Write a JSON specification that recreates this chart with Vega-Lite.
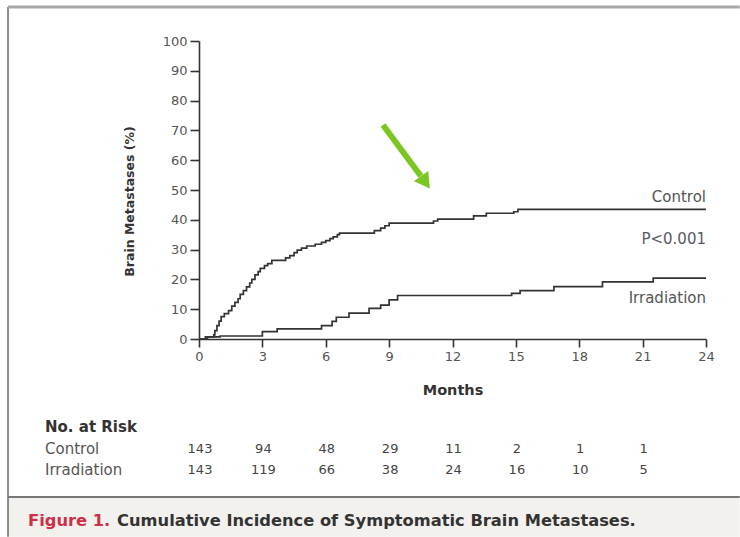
{
  "$schema": "https://vega.github.io/schema/vega-lite/v6.json",
  "width": 507,
  "height": 298,
  "autosize": {"type": "none"},
  "padding": {"left": 199, "top": 41, "right": 34, "bottom": 198},
  "background": "white",
  "config": {
    "view": {"stroke": null},
    "font": "DejaVu Sans",
    "axis": {
      "grid": false,
      "domainColor": "#333333",
      "domainWidth": 1.6,
      "tickColor": "#333333",
      "tickWidth": 1.6,
      "tickSize": 8,
      "labelColor": "#555555",
      "labelFont": "DejaVu Sans",
      "labelFontSize": 13,
      "labelFlush": false,
      "labelOverlap": false,
      "titleFont": "DejaVu Sans",
      "titleFontWeight": "bold",
      "titleColor": "#333333"
    },
    "axisY": {"tickCount": 11, "tickSize": 9, "labelPadding": 3},
    "axisX": {"tickCount": 9, "labelPadding": 3}
  },
  "data": {"values": [{}]},
  "datasets": {
    "curves": [
      {"group": "Control", "month": 0, "pct": 0},
      {"group": "Control", "month": 0.4, "pct": 0.7},
      {"group": "Control", "month": 0.7, "pct": 1.4},
      {"group": "Control", "month": 0.75, "pct": 2.8},
      {"group": "Control", "month": 0.85, "pct": 4.5},
      {"group": "Control", "month": 0.95, "pct": 6.0},
      {"group": "Control", "month": 1.05, "pct": 7.5},
      {"group": "Control", "month": 1.2, "pct": 8.5},
      {"group": "Control", "month": 1.4, "pct": 9.5},
      {"group": "Control", "month": 1.55, "pct": 11.0},
      {"group": "Control", "month": 1.7, "pct": 12.3},
      {"group": "Control", "month": 1.85, "pct": 13.5},
      {"group": "Control", "month": 1.95, "pct": 15.0},
      {"group": "Control", "month": 2.1, "pct": 16.2},
      {"group": "Control", "month": 2.25, "pct": 17.5},
      {"group": "Control", "month": 2.4, "pct": 18.8},
      {"group": "Control", "month": 2.5, "pct": 20.0},
      {"group": "Control", "month": 2.65, "pct": 21.5},
      {"group": "Control", "month": 2.8, "pct": 22.6},
      {"group": "Control", "month": 2.9, "pct": 23.7},
      {"group": "Control", "month": 3.1, "pct": 24.6},
      {"group": "Control", "month": 3.25, "pct": 25.3},
      {"group": "Control", "month": 3.45, "pct": 26.4},
      {"group": "Control", "month": 4.1, "pct": 27.2},
      {"group": "Control", "month": 4.3, "pct": 28.0},
      {"group": "Control", "month": 4.5, "pct": 29.0},
      {"group": "Control", "month": 4.65, "pct": 29.8},
      {"group": "Control", "month": 4.85, "pct": 30.5},
      {"group": "Control", "month": 5.1, "pct": 31.2},
      {"group": "Control", "month": 5.5, "pct": 31.8},
      {"group": "Control", "month": 5.8, "pct": 32.4},
      {"group": "Control", "month": 6.0, "pct": 33.0},
      {"group": "Control", "month": 6.2, "pct": 33.7},
      {"group": "Control", "month": 6.35, "pct": 34.3},
      {"group": "Control", "month": 6.55, "pct": 35.0},
      {"group": "Control", "month": 6.65, "pct": 35.5},
      {"group": "Control", "month": 8.3, "pct": 36.4},
      {"group": "Control", "month": 8.6, "pct": 37.2},
      {"group": "Control", "month": 8.8, "pct": 38.0},
      {"group": "Control", "month": 9.0, "pct": 38.9},
      {"group": "Control", "month": 11.1, "pct": 39.6},
      {"group": "Control", "month": 11.3, "pct": 40.2},
      {"group": "Control", "month": 13.0, "pct": 41.3},
      {"group": "Control", "month": 13.6, "pct": 42.2},
      {"group": "Control", "month": 14.9, "pct": 42.7},
      {"group": "Control", "month": 15.1, "pct": 43.5},
      {"group": "Control", "month": 24.0, "pct": 43.5},
      {"group": "Irradiation", "month": 0, "pct": 0},
      {"group": "Irradiation", "month": 0.3, "pct": 0.7},
      {"group": "Irradiation", "month": 1.0, "pct": 1.0},
      {"group": "Irradiation", "month": 3.0, "pct": 2.5},
      {"group": "Irradiation", "month": 3.7, "pct": 3.4},
      {"group": "Irradiation", "month": 5.8, "pct": 4.5},
      {"group": "Irradiation", "month": 6.3, "pct": 5.9},
      {"group": "Irradiation", "month": 6.5, "pct": 7.3},
      {"group": "Irradiation", "month": 7.1, "pct": 8.7},
      {"group": "Irradiation", "month": 8.05, "pct": 10.3},
      {"group": "Irradiation", "month": 8.6, "pct": 11.4},
      {"group": "Irradiation", "month": 9.0, "pct": 13.1},
      {"group": "Irradiation", "month": 9.4, "pct": 14.6},
      {"group": "Irradiation", "month": 14.8, "pct": 15.3},
      {"group": "Irradiation", "month": 15.2, "pct": 16.2},
      {"group": "Irradiation", "month": 16.8, "pct": 17.6},
      {"group": "Irradiation", "month": 19.1, "pct": 19.2},
      {"group": "Irradiation", "month": 21.5, "pct": 20.4},
      {"group": "Irradiation", "month": 24.0, "pct": 20.4}
    ],
    "risk": [
      {"group": "Control", "month": 0, "n": 143},
      {"group": "Control", "month": 3, "n": 94},
      {"group": "Control", "month": 6, "n": 48},
      {"group": "Control", "month": 9, "n": 29},
      {"group": "Control", "month": 12, "n": 11},
      {"group": "Control", "month": 15, "n": 2},
      {"group": "Control", "month": 18, "n": 1},
      {"group": "Control", "month": 21, "n": 1},
      {"group": "Irradiation", "month": 0, "n": 143},
      {"group": "Irradiation", "month": 3, "n": 119},
      {"group": "Irradiation", "month": 6, "n": 66},
      {"group": "Irradiation", "month": 9, "n": 38},
      {"group": "Irradiation", "month": 12, "n": 24},
      {"group": "Irradiation", "month": 15, "n": 16},
      {"group": "Irradiation", "month": 18, "n": 10},
      {"group": "Irradiation", "month": 21, "n": 5}
    ]
  },
  "layer": [
    {
      "description": "caption band",
      "mark": {"type": "rect", "fill": "#f3f1ed"},
      "encoding": {
        "x": {"datum": -9.04, "type": "quantitative"},
        "x2": {"datum": 25.6},
        "y": {"datum": -53.3, "type": "quantitative"},
        "y2": {"datum": -66.4}
      }
    },
    {
      "description": "figure frame: left edge",
      "mark": {"type": "rule", "color": "#8c8c8c", "strokeWidth": 2},
      "encoding": {
        "x": {"datum": -9.04, "type": "quantitative"},
        "y": {"datum": 111.4, "type": "quantitative"},
        "y2": {"datum": -66.4}
      }
    },
    {
      "description": "figure frame: top edge",
      "mark": {"type": "rule", "color": "#a8a8a8", "strokeWidth": 3},
      "encoding": {
        "x": {"datum": -9.04, "type": "quantitative"},
        "x2": {"datum": 25.6},
        "y": {"datum": 111.4, "type": "quantitative"}
      }
    },
    {
      "description": "divider above the caption",
      "mark": {"type": "rule", "color": "#777777", "strokeWidth": 2},
      "encoding": {
        "x": {"datum": -9.04, "type": "quantitative"},
        "x2": {"datum": 25.6},
        "y": {"datum": -53.0, "type": "quantitative"}
      }
    },
    {
      "data": {"name": "curves"},
      "mark": {"type": "line", "interpolate": "step-after", "color": "#333333", "strokeWidth": 1.7},
      "encoding": {
        "x": {
          "field": "month",
          "type": "quantitative",
          "scale": {"domain": [0, 24], "nice": false, "zero": false},
          "axis": {
            "title": "Months",
            "values": [0, 3, 6, 9, 12, 15, 18, 21, 24],
            "titleFontSize": 14.5,
            "titlePadding": 20
          }
        },
        "y": {
          "field": "pct",
          "type": "quantitative",
          "scale": {"domain": [0, 100], "nice": false, "zero": false},
          "axis": {
            "title": "Brain Metastases (%)",
            "values": [0, 10, 20, 30, 40, 50, 60, 70, 80, 90, 100],
            "titleFontSize": 12.5,
            "titleX": -63,
            "titleY": 160
          }
        },
        "detail": {"field": "group"}
      }
    },
    {
      "mark": {"type": "text", "text": "Control", "align": "right", "baseline": "middle", "fontSize": 15, "color": "#555555"},
      "encoding": {
        "x": {"datum": 24, "type": "quantitative"},
        "y": {"datum": 47.7, "type": "quantitative"}
      }
    },
    {
      "mark": {"type": "text", "text": "P<0.001", "align": "right", "baseline": "middle", "fontSize": 15, "color": "#5a5a66"},
      "encoding": {
        "x": {"datum": 24, "type": "quantitative"},
        "y": {"datum": 33.7, "type": "quantitative"}
      }
    },
    {
      "mark": {"type": "text", "text": "Irradiation", "align": "right", "baseline": "middle", "fontSize": 15, "color": "#555555"},
      "encoding": {
        "x": {"datum": 24, "type": "quantitative"},
        "y": {"datum": 13.8, "type": "quantitative"}
      }
    },
    {
      "description": "green pointer arrow: shaft",
      "mark": {"type": "rule", "color": "#7cc623", "strokeWidth": 6},
      "encoding": {
        "x": {"datum": 8.71, "type": "quantitative"},
        "y": {"datum": 71.8, "type": "quantitative"},
        "x2": {"datum": 10.5},
        "y2": {"datum": 54.7}
      }
    },
    {
      "description": "green pointer arrow: head",
      "mark": {"type": "point", "shape": "triangle-up", "filled": true, "opacity": 1, "color": "#7cc623", "size": 310, "angle": 144.5},
      "encoding": {
        "x": {"datum": 10.72, "type": "quantitative"},
        "y": {"datum": 52.6, "type": "quantitative"}
      }
    },
    {
      "mark": {"type": "text", "text": "No. at Risk", "align": "left", "baseline": "middle", "fontSize": 15, "fontWeight": "bold", "color": "#333333"},
      "encoding": {
        "x": {"datum": -7.29, "type": "quantitative"},
        "y": {"datum": -29.4, "type": "quantitative"}
      }
    },
    {
      "mark": {"type": "text", "text": "Control", "align": "left", "baseline": "middle", "fontSize": 15, "color": "#555555"},
      "encoding": {
        "x": {"datum": -7.29, "type": "quantitative"},
        "y": {"datum": -36.9, "type": "quantitative"}
      }
    },
    {
      "mark": {"type": "text", "text": "Irradiation", "align": "left", "baseline": "middle", "fontSize": 15, "color": "#555555"},
      "encoding": {
        "x": {"datum": -7.29, "type": "quantitative"},
        "y": {"datum": -44.0, "type": "quantitative"}
      }
    },
    {
      "data": {"name": "risk"},
      "transform": [{"filter": "datum.group === 'Control'"}],
      "mark": {"type": "text", "align": "center", "baseline": "middle", "fontSize": 13, "color": "#444444", "dx": 1},
      "encoding": {
        "x": {"field": "month", "type": "quantitative"},
        "y": {"datum": -36.9, "type": "quantitative"},
        "text": {"field": "n", "type": "quantitative"}
      }
    },
    {
      "data": {"name": "risk"},
      "transform": [{"filter": "datum.group === 'Irradiation'"}],
      "mark": {"type": "text", "align": "center", "baseline": "middle", "fontSize": 13, "color": "#444444", "dx": 1},
      "encoding": {
        "x": {"field": "month", "type": "quantitative"},
        "y": {"datum": -44.0, "type": "quantitative"},
        "text": {"field": "n", "type": "quantitative"}
      }
    },
    {
      "mark": {"type": "text", "text": "Figure 1.", "align": "left", "baseline": "middle", "fontSize": 16.3, "fontWeight": "bold", "color": "#cc3048"},
      "encoding": {
        "x": {"datum": -8.09, "type": "quantitative"},
        "y": {"datum": -61.1, "type": "quantitative"}
      }
    },
    {
      "mark": {"type": "text", "text": "Cumulative Incidence of Symptomatic Brain Metastases.", "align": "left", "baseline": "middle", "fontSize": 16.3, "fontWeight": "bold", "color": "#333333"},
      "encoding": {
        "x": {"datum": -3.88, "type": "quantitative"},
        "y": {"datum": -61.1, "type": "quantitative"}
      }
    }
  ]
}
